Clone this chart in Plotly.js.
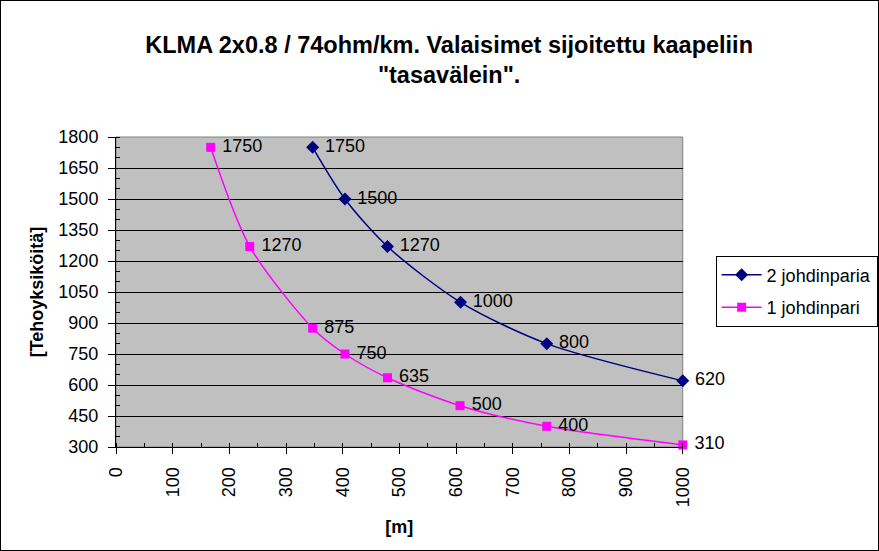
<!DOCTYPE html>
<html><head><meta charset="utf-8">
<script src="https://cdn.plot.ly/plotly-3.0.1.min.js"></script>
<style>html,body{margin:0;padding:0;background:#fff}#c{width:877px;height:549px;border:1px solid #000}</style>
</head><body><div id="c"></div>
<script>
var title = 'KLMA 2x0.8 / 74ohm/km. Valaisimet sijoitettu kaapeliin<br>"tasavälein".';
var xTitle = '[m]';
var yTitle = '[Tehoyksiköitä]';
var name2 = '2 johdinparia';
var name1 = '1 johdinpari';
var x2 = [347, 404, 479, 608, 760, 1000];
var y2 = [1750, 1500, 1270, 1000, 800, 620];
var x1 = [167, 236, 347, 404, 479, 607, 760, 1000];
var y1 = [1750, 1270, 875, 750, 635, 500, 400, 310];
var xTicks = [0,100,200,300,400,500,600,700,800,900,1000];
var yTicks = [300,450,600,750,900,1050,1200,1350,1500,1650,1800];

var F = 'Liberation Sans, Arial, sans-serif';
var traces = [
 {x:x2, y:y2, name:name2, legendgroup:'a', mode:'lines+markers+text', type:'scatter',
  line:{color:'#000080', width:1.5, shape:'spline', smoothing:0.8},
  marker:{symbol:'diamond', size:10, color:'#000080'},
  text:y2.map(String), texttemplate:' %{text}', textposition:'middle right',
  textfont:{family:F, size:18, color:'#000'}, cliponaxis:false},
 {x:x1, y:y1, name:name1, legendgroup:'b', mode:'lines+markers+text', type:'scatter',
  line:{color:'#FF00FF', width:1.5, shape:'spline', smoothing:0.8},
  marker:{symbol:'square', size:9, color:'#FF00FF'},
  text:y1.map(String), texttemplate:' %{text}', textposition:'middle right',
  textfont:{family:F, size:18, color:'#000'}, cliponaxis:false}
];
var layout = {
 width:877, height:549,
 margin:{l:115, r:0, t:136, b:103},
 paper_bgcolor:'#fff', plot_bgcolor:'#C0C0C0',
 font:{family:F, size:18, color:'#000'},
 title:{text:title, font:{family:F, size:23.5, color:'#000', weight:'bold'}, x:0.511, xanchor:'center', y:0.906, yanchor:'top'},
 showlegend:true,
 legend:{x:0.79, y:0.503, xanchor:'left', yanchor:'middle', bgcolor:'#fff', bordercolor:'#000', borderwidth:1,
   font:{family:F, size:18, color:'#000'}, traceorder:'grouped', tracegroupgap:6, itemwidth:40},
 xaxis:{range:[0,1000], domain:[0,0.7467], tickvals:xTicks, ticktext:xTicks.map(String), tickangle:-90,
   showgrid:false, zeroline:false, showline:true, linecolor:'#000', linewidth:1,
   ticks:'outside', ticklen:6, tickcolor:'#000', ticklabelstandoff:6,
   minor:{dtick:50, ticks:'inside', ticklen:4, tickcolor:'#000', showgrid:false},
   title:{text:xTitle, font:{family:F, size:18, color:'#000', weight:'bold'}, standoff:14},
   tickfont:{family:F, size:18}},
 yaxis:{range:[300,1800], tickvals:yTicks, ticktext:yTicks.map(String),
   showgrid:true, gridcolor:'#000', gridwidth:1, zeroline:false, showline:true, linecolor:'#000', linewidth:1,
   ticks:'outside', ticklen:7, tickcolor:'#000', ticklabelstandoff:6,
   minor:{dtick:50, ticks:'inside', ticklen:4, tickcolor:'#000', showgrid:false},
   title:{text:yTitle, font:{family:F, size:18, color:'#000', weight:'bold'}, standoff:10},
   tickfont:{family:F, size:18}},
 shapes:[{type:'rect', xref:'x domain', yref:'y domain', x0:0, x1:1, y0:0, y1:1, line:{color:'#808080', width:1}, fillcolor:'rgba(0,0,0,0)', layer:'below'}]
};
Plotly.newPlot('c', traces, layout, {displayModeBar:false, staticPlot:true});
</script></body></html>
